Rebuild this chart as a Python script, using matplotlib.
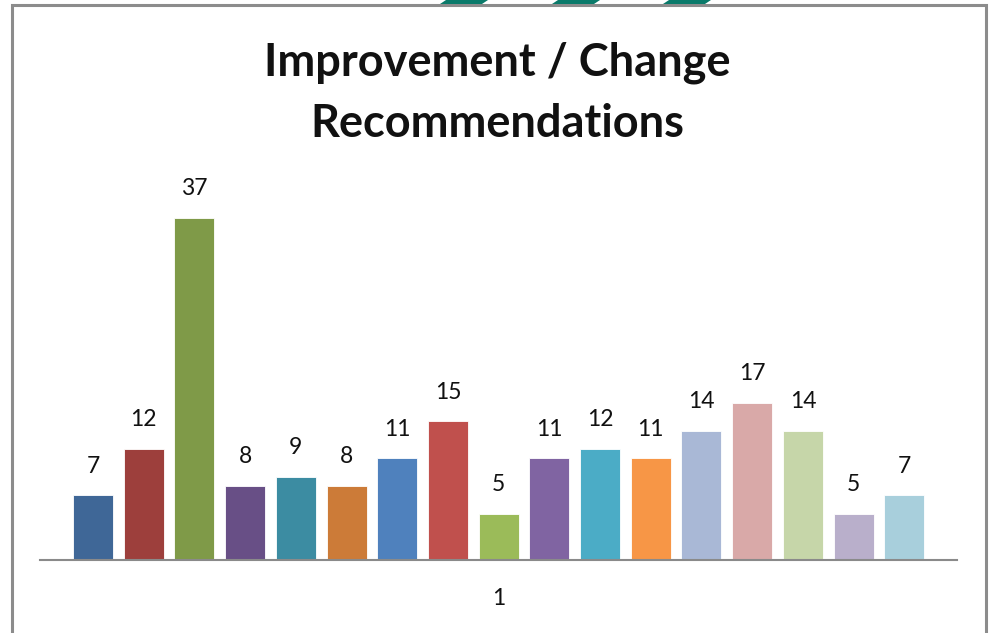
import matplotlib
matplotlib.use('Agg')
import matplotlib.pyplot as plt
from matplotlib.patches import Polygon, Rectangle

# Recommendation counts, one bar per category in series "1"
categories = ['1']
counts = [7, 12, 37, 8, 9, 8, 11, 15, 5, 11, 12, 11, 14, 17, 14, 5, 7]
colors = ['#3F6797', '#9D3F3C', '#7F9A48', '#684F86', '#3C8CA2', '#CC7B38',
          '#4F81BD', '#C0504D', '#9BBB59', '#8064A2', '#4BACC6', '#F79646',
          '#A9B8D6', '#D9A9A8', '#C6D6A9', '#B9AFCB', '#A8CFDC']
title = 'Improvement / Change\nRecommendations'

W, H = 990, 633
fig = plt.figure(figsize=(W / 100, H / 100), dpi=100)
fig.patch.set_facecolor('white')

# axes placed in pixel terms: x 40..957, baseline at y=560
ax = fig.add_axes([40 / W, 1 - 560 / H, 917 / W, 369.7 / H])
x = list(range(len(counts)))
bars = ax.bar(x, counts, width=0.79, color=colors, edgecolor='white',
              linewidth=0.6)
for xi, v in zip(x, counts):
    ax.annotate(str(v), (xi, v), xytext=(0, 21), textcoords='offset points',
                ha='center', va='center', fontsize=16.5, family='Lato',
                color='#111111')

ax.set_xlim(-1.046, 17.04)
ax.set_ylim(0, 40)
for s in ['top', 'right', 'left']:
    ax.spines[s].set_visible(False)
ax.spines['bottom'].set_color('#8a8a8a')
ax.spines['bottom'].set_linewidth(1.5)
ax.set_yticks([])
ax.set_xticks([(len(counts) - 1) / 2])
ax.set_xticklabels(categories, fontsize=16.5, family='Lato', color='#111111')
ax.tick_params(axis='x', length=0, pad=20)

fig.text(497 / W, 1 - 93 / H, title, ha='center', va='center',
         fontsize=32.5, fontweight='bold', family='Lato',
         linespacing=1.55, color='#111111')

# chart frame
fig.patches.append(Rectangle((12 / W, -0.05), 974 / W, 1 - 5 / H + 0.05,
                             transform=fig.transFigure, fill=False,
                             edgecolor='#8c8c8c', linewidth=2.2))

# teal tabs along the top edge
for x0 in [440, 552, 663]:
    pts = [(x0 / W, 1 - 4 / H), ((x0 + 6) / W, 1.0),
           ((x0 + 48) / W, 1.0), ((x0 + 42) / W, 1 - 4 / H)]
    fig.patches.append(Polygon(pts, closed=True, transform=fig.transFigure,
                               facecolor='#0A7A6A', edgecolor='none'))

fig.savefig('out.png', dpi=100, facecolor='white')
